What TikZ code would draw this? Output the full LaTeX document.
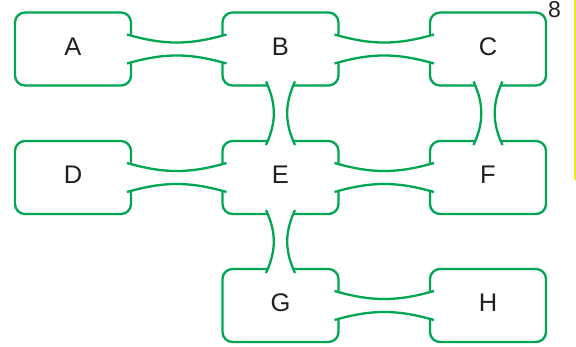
\documentclass[tikz,border=0pt]{standalone}
\usepackage{fontspec}
\setmainfont{Liberation Sans}
\usetikzlibrary{calc}
\definecolor{boxgreen}{RGB}{0,166,81}
\definecolor{lettergray}{RGB}{35,31,32}
\definecolor{edgeyellow}{RGB}{245,228,30}
\newcommand{\hbridge}[2]{%
  \fill[white] ($(#1.east)+(-4,14.5)$) to[bend right=16] ($(#2.west)+(4,14.5)$) -- ($(#2.west)+(4,-14.5)$) to[bend right=16] ($(#1.east)+(-4,-14.5)$) -- cycle;
  \draw[bridge] ($(#1.east)+(-4,14.5)$) to[bend right=16] ($(#2.west)+(4,14.5)$);
  \draw[bridge] ($(#1.east)+(-4,-14.5)$) to[bend left=16] ($(#2.west)+(4,-14.5)$);}
\newcommand{\vbridge}[2]{%
  \fill[white] ($(#1.south)+(-14.5,4)$) to[bend left=25] ($(#2.north)+(-14.5,-4)$) -- ($(#2.north)+(14.5,-4)$) to[bend left=25] ($(#1.south)+(14.5,4)$) -- cycle;
  \draw[bridge] ($(#1.south)+(-14.5,4)$) to[bend left=25] ($(#2.north)+(-14.5,-4)$);
  \draw[bridge] ($(#1.south)+(14.5,4)$) to[bend right=25] ($(#2.north)+(14.5,-4)$);}

\begin{document}
\begin{tikzpicture}[x=1pt, y=1pt,
    room/.style={draw=boxgreen, line width=2.3pt, rounded corners=10pt, minimum width=116pt, minimum height=73pt, inner sep=0pt, outer sep=0pt, text=lettergray, font=\fontsize{25.5}{30}\selectfont, text height=18pt, text depth=6pt},
    bridge/.style={draw=boxgreen, line width=2.3pt}]
        \useasboundingbox (0,0) rectangle (576,-346);
        \node[room] (A) at (73,-49) {A};
        \node[room] (B) at (280.5,-49) {B};
        \node[room] (C) at (488,-49) {C};
        \node[room] (D) at (73,-177.5) {D};
        \node[room] (E) at (280.5,-177.5) {E};
        \node[room] (F) at (488,-177.5) {F};
        \node[room] (G) at (280.5,-305.5) {G};
        \node[room] (H) at (488,-305.5) {H};
        \hbridge{A}{B}
        \hbridge{B}{C}
        \hbridge{D}{E}
        \hbridge{E}{F}
        \hbridge{G}{H}
        \vbridge{B}{E}
        \vbridge{C}{F}
        \vbridge{E}{G}
        \node[text=lettergray, font=\fontsize{23}{27}\selectfont, inner sep=0pt] (page) at (554.5,-10) {8};
        \coordinate (rimtop) at (575,0);
        \coordinate (rimbot) at (575,-180);
        \draw[edgeyellow, line width=1.3pt] (rimtop) -- (rimbot);
    \end{tikzpicture}
\end{document}
